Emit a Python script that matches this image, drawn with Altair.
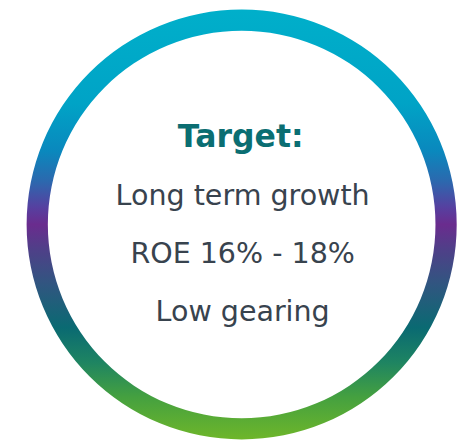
import altair as alt
import pandas as pd

# ---- data ----
ring_value = [100]
lines = ["Target:", "Long term growth", "ROE 16% - 18%", "Low gearing"]
line_kind = ["title", "body", "body", "body"]
line_row = [0, 1, 2, 3]

ring_colors = ["#00AFCA", "#00A3C6", "#0A88BD", "#2C68AE", "#5640A0", "#6A2C8E",
               "#4E4088", "#305680", "#0A6A72", "#1E8462", "#44A040", "#6EB62A"]
ring_offsets = [0.0, 0.22, 0.33, 0.40, 0.46, 0.50, 0.56, 0.64, 0.74, 0.82, 0.90, 1.0]

ring_df = pd.DataFrame({"value": ring_value})
text_df = pd.DataFrame({"label": lines, "kind": line_kind, "row": line_row})

gradient = alt.Gradient(
    gradient="linear",
    stops=[alt.GradientStop(color=c, offset=o) for c, o in zip(ring_colors, ring_offsets)],
    x1=0, x2=0, y1=0, y2=1,
)

ring = alt.Chart(ring_df).mark_arc(
    radius=218.5, radius2=197, color=gradient, stroke=None
).encode(theta=alt.Theta("value:Q", stack=True))

yscale = alt.Scale(domain=[0, 3], range=[137.5, 315])

title = alt.Chart(text_df).transform_filter(alt.datum.kind == "title").mark_text(
    font="DejaVu Sans", fontWeight="bold", fontSize=32, color="#0B6E72",
    baseline="alphabetic", align="center", dx=-1
).encode(
    y=alt.Y("row:Q", scale=yscale, axis=None),
    text="label:N",
)

body = alt.Chart(text_df).transform_filter(alt.datum.kind == "body").mark_text(
    font="DejaVu Sans", fontSize=29, color="#38434E",
    baseline="alphabetic", align="center", dx=1
).encode(
    y=alt.Y("row:Q", scale=yscale, axis=None),
    text="label:N",
)

chart = alt.layer(ring, title, body).properties(
    width=452, height=433,
    padding={"left": 11.5, "top": 0, "right": 0, "bottom": 0},
    autosize=alt.AutoSizeParams(type="none"),
    background="white",
).configure_view(stroke=None)

chart.save("out.html", embed_options={"renderer": "svg", "actions": False})
